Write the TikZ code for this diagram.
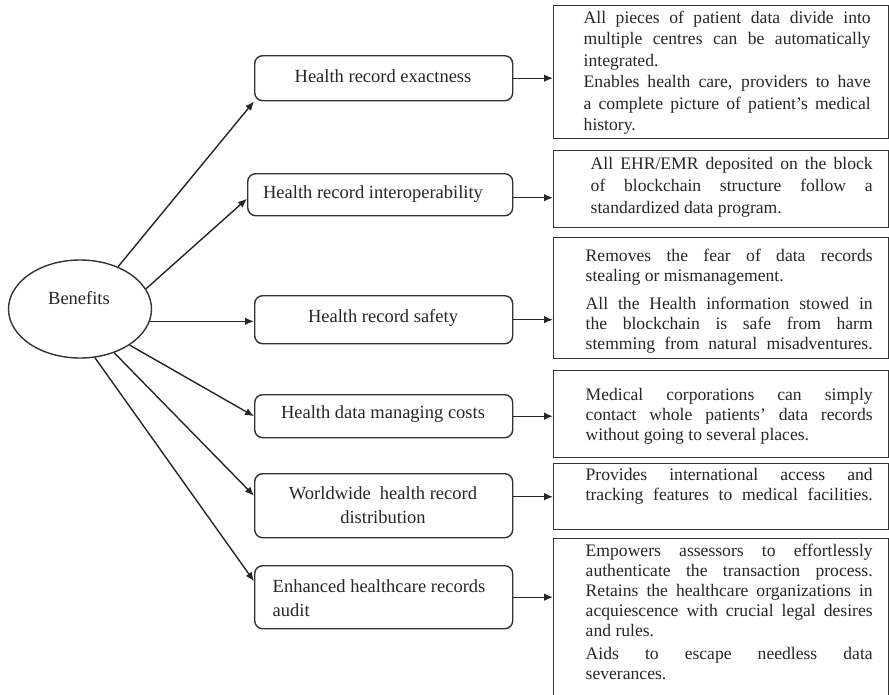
\documentclass[tikz,border=0pt]{standalone}
\usepackage{fontspec}
\setmainfont{Liberation Serif}
\usetikzlibrary{arrows.meta,shapes.geometric}
\newcommand{\jline}[1]{\makebox[287pt][s]{#1}}
\newcommand{\jlineb}[1]{\makebox[282pt][s]{#1}}
\begin{document}
\begin{tikzpicture}[x=1pt,y=-1pt,
  line width=1.4pt,
  every node/.style={text=black!85},
  lbox/.style={draw=black!80,rounded corners=8pt,inner sep=0pt,anchor=north west},
  rbox/.style={draw=black!80,inner sep=0pt,anchor=north west},
  lfont/.style={font=\fontsize{18.5}{24}\selectfont},
  rtext/.style={font=\fontsize{17.6}{20}\selectfont,align=left,inner sep=0pt,anchor=north west},
  arr/.style={draw=black!85,-{Latex[length=9pt,width=7.5pt]}}]
\useasboundingbox (0,0) rectangle (889,694);
% centre ellipse
\node[draw=black!80,ellipse,minimum width=143pt,minimum height=98pt,inner sep=0pt] (ben) at (80,309) {};
\node[lfont,inner sep=0pt] (lbl) at (79,298) {Benefits};
% left boxes
\node[lbox,minimum width=258pt,minimum height=45pt] (b1) at (254,55) {};
\node[lbox,minimum width=265pt,minimum height=42pt] (b2) at (247,173) {};
\node[lbox,minimum width=258pt,minimum height=48pt] (b3) at (254,295) {};
\node[lbox,minimum width=258pt,minimum height=43pt] (b4) at (254,394) {};
\node[lbox,minimum width=258pt,minimum height=64pt] (b5) at (254,473) {};
\node[lbox,minimum width=258pt,minimum height=63pt] (b6) at (254,565) {};
\node[lfont] (l1) at (383,76) {Health record exactness};
\node[lfont] (l2) at (373,194) {Health record interoperability};
\node[lfont] (l3) at (383,318) {Health record safety};
\node[lfont] (l4) at (383,414) {Health data managing costs};
\node[lfont,align=center] (l5) at (383,505) {Worldwide \ health record\\distribution};
\node[lfont,align=left,anchor=west,inner sep=0pt] (l6) at (272,598) {Enhanced healthcare records\\audit};
% right boxes
\node[rbox,minimum width=334.5pt,minimum height=133pt] (r1) at (553,5) {};
\node[rbox,minimum width=334.5pt,minimum height=77pt] (r2) at (553,150) {};
\node[rbox,minimum width=334.5pt,minimum height=121pt] (r3) at (553,237) {};
\node[rbox,minimum width=334.5pt,minimum height=87pt] (r4) at (553,370) {};
\node[rbox,minimum width=334.5pt,minimum height=66pt] (r5) at (553,463) {};
\node[rbox,minimum width=334.5pt,minimum height=158pt] (r6) at (553,538) {};
% right texts
\node[rtext] (t1) at (583,10) {\jline{All pieces of patient data divide into}\\[1.5pt]
\jline{multiple centres can be automatically}\\[1.5pt]
integrated.\\[1.5pt]
\jline{Enables health care, providers to have}\\[1.5pt]
\jline{a complete picture of patient’s medical}\\[1.5pt]
history.};
\node[rtext] (t2) at (590,157) {\jlineb{All EHR/EMR deposited on the block}\\[2pt]
\jlineb{of blockchain structure follow a}\\[2pt]
standardized data program.};
\node[rtext] (t3) at (585,248) {\jline{Removes the fear of data records}\\
stealing or mismanagement.\\[8pt]
\jline{All the Health information stowed in}\\
\jline{the blockchain is safe from harm}\\
\jline{stemming from natural misadventures.}};
\node[rtext] (t4) at (585,388) {\jline{Medical corporations can simply}\\
\jline{contact whole patients’ data records}\\
without going to several places.};
\node[rtext] (t5) at (585,468) {\jline{Provides international access and}\\
\jline{tracking features to medical facilities.}};
\node[rtext] (t6) at (585,543) {\jline{Empowers assessors to effortlessly}\\
\jline{authenticate the transaction process.}\\
\jline{Retains the healthcare organizations in}\\
\jline{acquiescence with crucial legal desires}\\
and rules.\\[3pt]
\jline{Aids to escape needless data}\\
severances.};
% connectors from centre
\draw[arr] (ben.48.6) -- (b1.south west);
\draw[arr] (ben.17.6) -- ([yshift=-4pt]b2.west);
\draw[arr] (ben.-10.4) -- (ben.-10.4 -| b3.west);
\draw[arr] (ben.-36.9) -- (b4.west);
\draw[arr] (ben.-52.7) -- ([yshift=10pt]b5.west);
\draw[arr] (ben.-73) -- ([yshift=16pt]b6.west);
% connectors to right boxes
\draw[arr] (b1.east) -- (b1.east -| r1.west);
\draw[arr] ([yshift=-3pt]b2.east) -- ([yshift=-3pt]b2.east -| r2.west);
\draw[arr] (b3.east) -- (b3.east -| r3.west);
\draw[arr] (b4.east) -- (b4.east -| r4.west);
\draw[arr] ([yshift=9pt]b5.east) -- ([yshift=9pt]b5.east -| r5.west);
\draw[arr] (b6.east) -- (b6.east -| r6.west);
\end{tikzpicture}
\end{document}
